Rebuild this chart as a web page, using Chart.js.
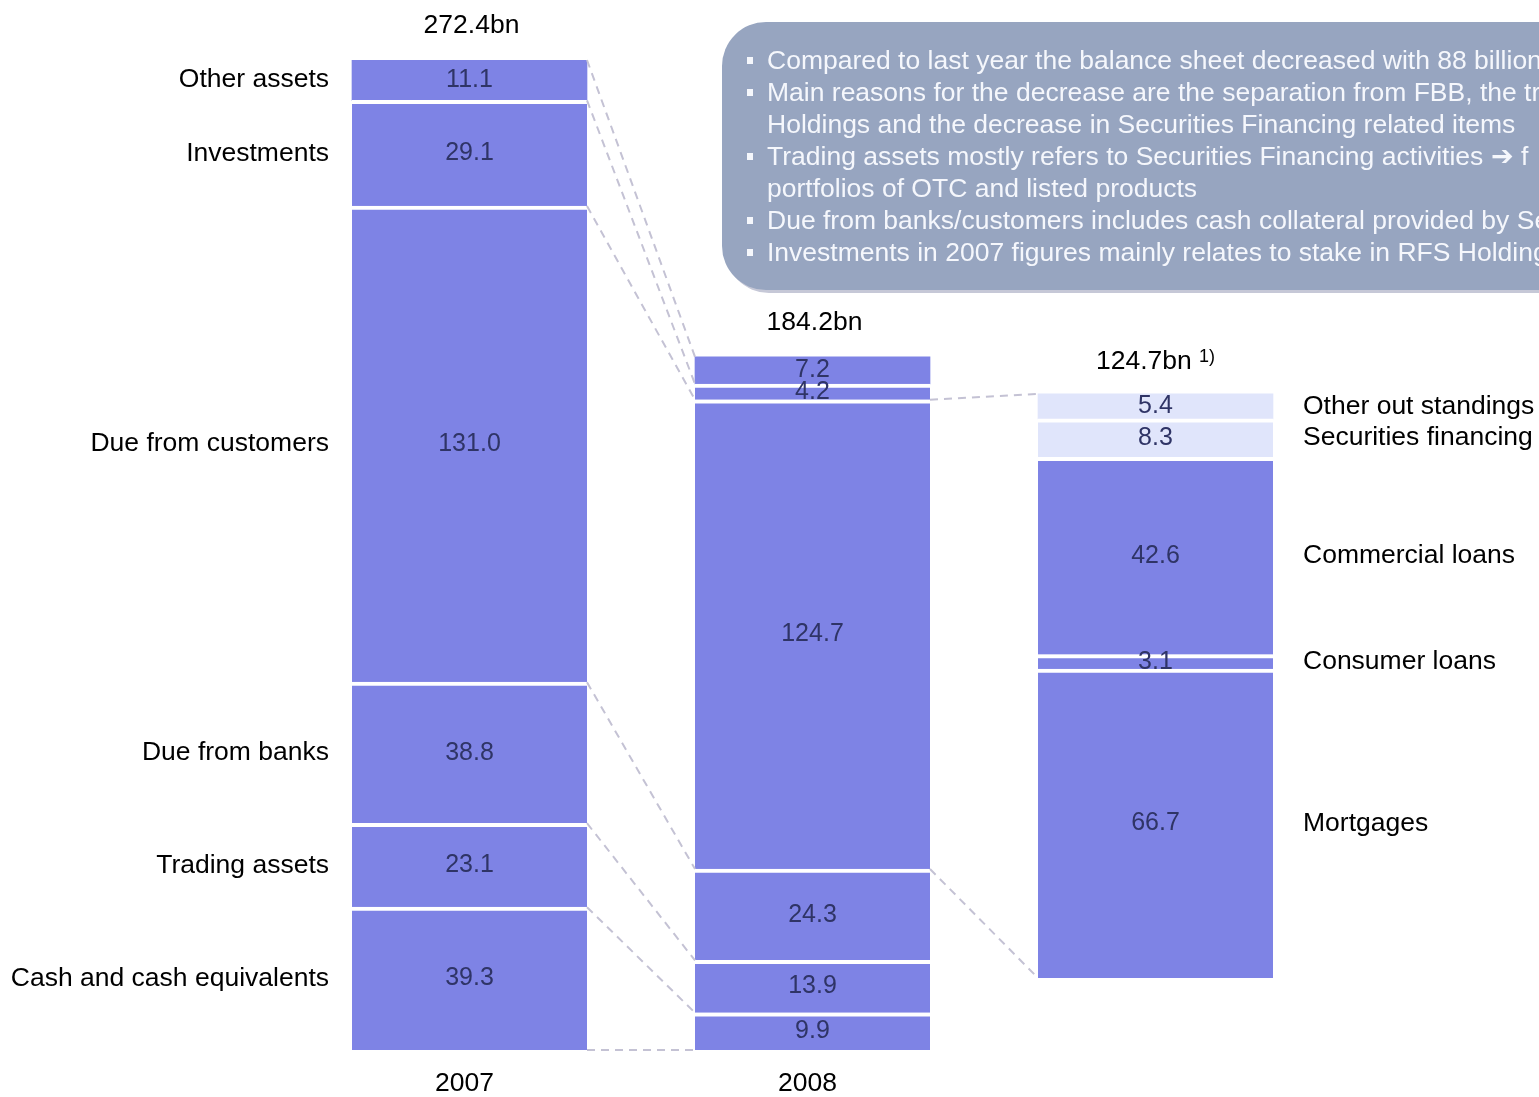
<!DOCTYPE html>
<html>
<head>
<meta charset="utf-8">
<script src="https://cdn.jsdelivr.net/npm/chart.js@4.4.1/dist/chart.umd.min.js"></script>
<style>
html, body { margin: 0; padding: 0; width: 1539px; height: 1097px; overflow: hidden; background: #fff; }
#wrap { position: absolute; left: 0; top: 0; width: 1539px; height: 1097px; }
#note {
    position: absolute; left: 722px; top: 22px; width: 1000px; height: 268px;
    box-sizing: border-box; padding-top: 22px;
    border-radius: 44px; background: #97a5c0; box-shadow: 3px 3px 0 #c6c8d7;
    font: 26.5px "Liberation Sans", Arial, sans-serif; color: #f5f7fc;
    white-space: nowrap; overflow: hidden;
}
#note div { position: relative; height: 32px; line-height: 32px; padding-left: 45px; }
#note div.b::before { content: ''; position: absolute; left: 25px; top: 13px; width: 6px; height: 7px; background: #f5f7fc; }
</style>
</head>
<body>
<div id="wrap"><canvas id="balanceChart"></canvas></div>
<div id="note"></div>
<script>
// --- DATA ---

const years = ['2007', '2008', '']
const assetNames = ['Cash and cash equivalents', 'Trading assets', 'Due from banks', 'Due from customers', 'Investments', 'Other assets']
const assets2007 = [39.3, 23.1, 38.8, 131.0, 29.1, 11.1]
const assets2008 = [9.9, 13.9, 24.3, 124.7, 4.2, 7.2]
const loanNames = ['Mortgages', 'Consumer loans', 'Commercial loans', 'Securities financing', 'Other out standings']
const loanValues = [66.7, 3.1, 42.6, 8.3, 5.4]
const totalLabels = ['272.4bn', '184.2bn', '124.7bn']
const footnoteMark = '1)'

const noteLines = [
    [true, 'Compared to last year the balance sheet decreased with 88 billion'],
    [true, 'Main reasons for the decrease are the separation from FBB, the tr'],
    [false, 'Holdings and the decrease in Securities Financing related items'],
    [true, 'Trading assets mostly refers to Securities Financing activities \u2794 f'],
    [false, 'portfolios of OTC and listed products'],
    [true, 'Due from banks/customers includes cash collateral provided by Se'],
    [true, 'Investments in 2007 figures mainly relates to stake in RFS Holding']
]

const barColor = '#7e83e5'
const lightColor = '#e0e5fb'
const valueColor = '#2f3466'
const lineColor = '#c4c2d4'
const FONT = '"Liberation Sans", Arial, sans-serif'

// --- NOTE BOX ---

const noteBox = document.getElementById('note')
noteLines.forEach(([bullet, text]) => {
    const line = document.createElement('div')
    if (bullet) line.className = 'b'
    line.textContent = text
    noteBox.appendChild(line)
})

// --- CHART ---

function cumulative(values){
    const out = [0]
    values.forEach(v => out.push(out[out.length - 1] + v))
    return out
}

function makeSegments(values, names, col, axis, colors){
    return values.map((v, i) => {
        const data = [null, null, null]
        data[col] = v
        return {
            label: names[i],
            data: data,
            yAxisID: axis,
            backgroundColor: colors[i],
            borderColor: '#ffffff',
            borderWidth: { top: i < values.length - 1 ? 4 : 0, bottom: 0, left: 0, right: 0 },
            borderSkipped: false,
            grouped: false,
            barThickness: 235,
            col: col
        }
    })
}

const datasets = [
    ...makeSegments(assets2007, assetNames, 0, 'y1', assets2007.map(() => barColor)),
    ...makeSegments(assets2008, assetNames, 1, 'y2', assets2008.map(() => barColor)),
    ...makeSegments(loanValues, loanNames, 2, 'y3', loanValues.map((v, i) => i >= 3 ? lightColor : barColor))
]

function barEdges(chart, col){
    const di = chart.data.datasets.findIndex(d => d.col === col)
    const el = chart.getDatasetMeta(di).data[col]
    return { left: el.x - el.width / 2, right: el.x + el.width / 2, x: el.x }
}

function dashed(ctx, x1, y1, x2, y2){
    ctx.beginPath()
    ctx.moveTo(x1, y1)
    ctx.lineTo(x2, y2)
    ctx.stroke()
}

const overlayPlugin = {
    id: 'overlay',
    afterDatasetsDraw(chart){
        const ctx = chart.ctx
        const s = chart.scales
        ctx.save()

        // connector lines
        ctx.strokeStyle = lineColor
        ctx.lineWidth = 2
        ctx.setLineDash([8, 6])
        const b1 = barEdges(chart, 0), b2 = barEdges(chart, 1), b3 = barEdges(chart, 2)
        const c07 = cumulative(assets2007), c08 = cumulative(assets2008), cLoans = cumulative(loanValues)
        c07.forEach((v, i) => {
            dashed(ctx, b1.right, s.y1.getPixelForValue(v), b2.left, s.y2.getPixelForValue(c08[i]))
        })
        dashed(ctx, b2.right, s.y2.getPixelForValue(c08[3]), b3.left, s.y3.getPixelForValue(0))
        dashed(ctx, b2.right, s.y2.getPixelForValue(c08[4]), b3.left, s.y3.getPixelForValue(cLoans[cLoans.length - 1]))
        ctx.setLineDash([])

        // values and names
        ctx.textBaseline = 'middle'
        chart.data.datasets.forEach((ds, di) => {
            const el = chart.getDatasetMeta(di).data[ds.col]
            const val = ds.data[ds.col]
            const mid = (el.y + el.base) / 2
            ctx.font = `25px ${FONT}`
            ctx.fillStyle = valueColor
            ctx.textAlign = 'center'
            ctx.fillText(val.toFixed(1), el.x, mid)

            ctx.font = `26.5px ${FONT}`
            ctx.fillStyle = '#000'
            if (ds.col === 0){
                ctx.textAlign = 'right'
                ctx.fillText(ds.label, el.x - el.width / 2 - 23, mid)
            } else if (ds.col === 2){
                ctx.textAlign = 'left'
                ctx.fillText(ds.label, el.x + el.width / 2 + 30, mid)
            }
        })

        // totals and years
        ;[0, 1, 2].forEach(col => {
            const idxs = chart.data.datasets.map((d, i) => d.col === col ? i : -1).filter(i => i >= 0)
            const topEl = chart.getDatasetMeta(idxs[idxs.length - 1]).data[col]
            const bottomEl = chart.getDatasetMeta(idxs[0]).data[col]
            ctx.fillStyle = '#000'
            ctx.font = `26.5px ${FONT}`
            if (col === 2){
                const mainW = ctx.measureText(totalLabels[col] + ' ').width
                ctx.font = `18px ${FONT}`
                const supW = ctx.measureText(footnoteMark).width
                const start = topEl.x - (mainW + supW) / 2
                ctx.textAlign = 'left'
                ctx.fillText(footnoteMark, start + mainW, topEl.y - 37)
                ctx.font = `26.5px ${FONT}`
                ctx.fillText(totalLabels[col], start, topEl.y - 32)
            } else {
                ctx.textAlign = 'center'
                ctx.fillText(totalLabels[col], topEl.x + 2, topEl.y - 34)
            }
            if (years[col]){
                ctx.textAlign = 'center'
                ctx.fillText(years[col], bottomEl.x - 5, bottomEl.base + 34)
            }
        })
        ctx.restore()
    }
}

function initChart(){
    const ctx = document.getElementById('balanceChart').getContext('2d')
    return new Chart(ctx, {
        type: 'bar',
        data: { labels: years, datasets: datasets },
        options: {
            responsive: true,
            maintainAspectRatio: false,
            animation: false,
            layout: { padding: { top: 60, bottom: 47, left: 298, right: 212 } },
            plugins: { legend: { display: false }, tooltip: { enabled: false } },
            scales: {
                x: { display: false, stacked: true, offset: true },
                y1: { type: 'linear', axis: 'y', display: false, stacked: true, min: 0, max: 272.4 },
                y2: { type: 'linear', axis: 'y', display: false, stacked: true, min: 0, max: 263.1 },
                y3: { type: 'linear', axis: 'y', display: false, stacked: true, min: -15.55, max: 198.2 }
            }
        },
        plugins: [overlayPlugin]
    })
}

initChart()
</script>
</body>
</html>
